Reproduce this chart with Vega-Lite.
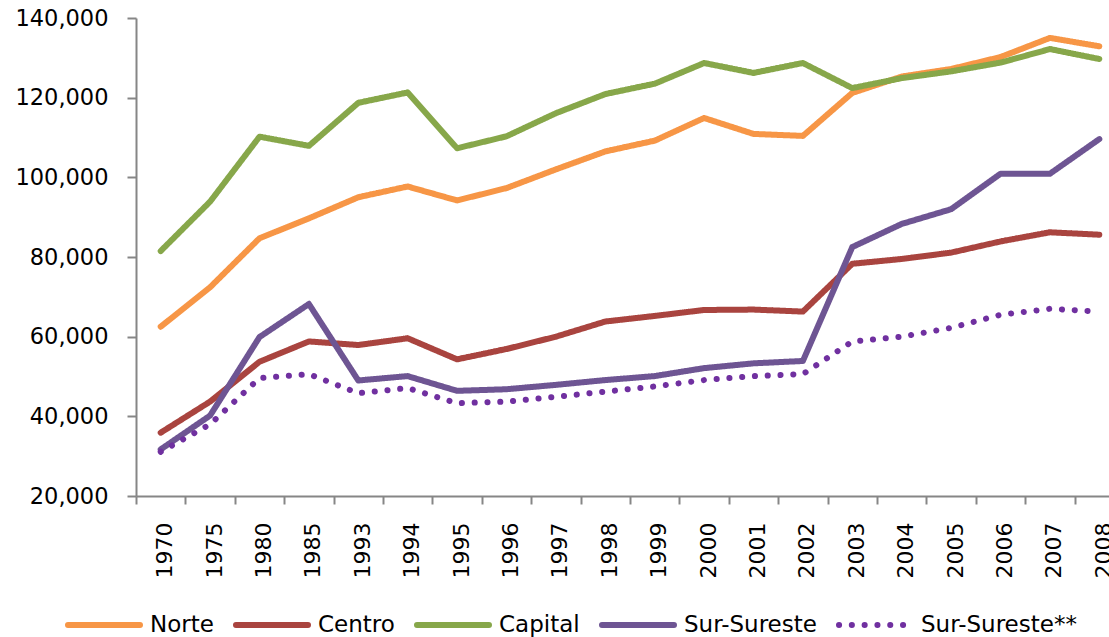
{
  "$schema": "https://vega.github.io/schema/vega-lite/v6.json",
  "autosize": {"type": "none"},
  "width": 973,
  "height": 478,
  "padding": {"left": 136, "top": 18, "right": 0, "bottom": 141},
  "background": "white",
  "config": {
    "view": {"stroke": null},
    "font": "DejaVu Sans"
  },
  "data": {
    "values": [
      {"year": "1970", "series": "Norte", "value": 62500},
      {"year": "1975", "series": "Norte", "value": 72400},
      {"year": "1980", "series": "Norte", "value": 84700},
      {"year": "1985", "series": "Norte", "value": 89700},
      {"year": "1993", "series": "Norte", "value": 95000},
      {"year": "1994", "series": "Norte", "value": 97700},
      {"year": "1995", "series": "Norte", "value": 94200},
      {"year": "1996", "series": "Norte", "value": 97300},
      {"year": "1997", "series": "Norte", "value": 102000},
      {"year": "1998", "series": "Norte", "value": 106500},
      {"year": "1999", "series": "Norte", "value": 109200},
      {"year": "2000", "series": "Norte", "value": 114900},
      {"year": "2001", "series": "Norte", "value": 110900},
      {"year": "2002", "series": "Norte", "value": 110400},
      {"year": "2003", "series": "Norte", "value": 121200},
      {"year": "2004", "series": "Norte", "value": 125300},
      {"year": "2005", "series": "Norte", "value": 127200},
      {"year": "2006", "series": "Norte", "value": 130200},
      {"year": "2007", "series": "Norte", "value": 135000},
      {"year": "2008", "series": "Norte", "value": 132900},

      {"year": "1970", "series": "Centro", "value": 35900},
      {"year": "1975", "series": "Centro", "value": 43700},
      {"year": "1980", "series": "Centro", "value": 53700},
      {"year": "1985", "series": "Centro", "value": 58800},
      {"year": "1993", "series": "Centro", "value": 57900},
      {"year": "1994", "series": "Centro", "value": 59600},
      {"year": "1995", "series": "Centro", "value": 54300},
      {"year": "1996", "series": "Centro", "value": 56900},
      {"year": "1997", "series": "Centro", "value": 60000},
      {"year": "1998", "series": "Centro", "value": 63800},
      {"year": "1999", "series": "Centro", "value": 65200},
      {"year": "2000", "series": "Centro", "value": 66700},
      {"year": "2001", "series": "Centro", "value": 66800},
      {"year": "2002", "series": "Centro", "value": 66300},
      {"year": "2003", "series": "Centro", "value": 78300},
      {"year": "2004", "series": "Centro", "value": 79500},
      {"year": "2005", "series": "Centro", "value": 81100},
      {"year": "2006", "series": "Centro", "value": 83900},
      {"year": "2007", "series": "Centro", "value": 86200},
      {"year": "2008", "series": "Centro", "value": 85600},

      {"year": "1970", "series": "Capital", "value": 81500},
      {"year": "1975", "series": "Capital", "value": 93900},
      {"year": "1980", "series": "Capital", "value": 110200},
      {"year": "1985", "series": "Capital", "value": 107900},
      {"year": "1993", "series": "Capital", "value": 118700},
      {"year": "1994", "series": "Capital", "value": 121300},
      {"year": "1995", "series": "Capital", "value": 107300},
      {"year": "1996", "series": "Capital", "value": 110300},
      {"year": "1997", "series": "Capital", "value": 116100},
      {"year": "1998", "series": "Capital", "value": 120900},
      {"year": "1999", "series": "Capital", "value": 123500},
      {"year": "2000", "series": "Capital", "value": 128700},
      {"year": "2001", "series": "Capital", "value": 126200},
      {"year": "2002", "series": "Capital", "value": 128700},
      {"year": "2003", "series": "Capital", "value": 122400},
      {"year": "2004", "series": "Capital", "value": 124900},
      {"year": "2005", "series": "Capital", "value": 126600},
      {"year": "2006", "series": "Capital", "value": 128800},
      {"year": "2007", "series": "Capital", "value": 132200},
      {"year": "2008", "series": "Capital", "value": 129700},

      {"year": "1970", "series": "Sur-Sureste", "value": 31700},
      {"year": "1975", "series": "Sur-Sureste", "value": 40200},
      {"year": "1980", "series": "Sur-Sureste", "value": 59900},
      {"year": "1985", "series": "Sur-Sureste", "value": 68200},
      {"year": "1993", "series": "Sur-Sureste", "value": 49000},
      {"year": "1994", "series": "Sur-Sureste", "value": 50100},
      {"year": "1995", "series": "Sur-Sureste", "value": 46400},
      {"year": "1996", "series": "Sur-Sureste", "value": 46800},
      {"year": "1997", "series": "Sur-Sureste", "value": 47900},
      {"year": "1998", "series": "Sur-Sureste", "value": 49100},
      {"year": "1999", "series": "Sur-Sureste", "value": 50100},
      {"year": "2000", "series": "Sur-Sureste", "value": 52100},
      {"year": "2001", "series": "Sur-Sureste", "value": 53300},
      {"year": "2002", "series": "Sur-Sureste", "value": 53900},
      {"year": "2003", "series": "Sur-Sureste", "value": 82500},
      {"year": "2004", "series": "Sur-Sureste", "value": 88300},
      {"year": "2005", "series": "Sur-Sureste", "value": 92000},
      {"year": "2006", "series": "Sur-Sureste", "value": 100900},
      {"year": "2007", "series": "Sur-Sureste", "value": 100900},
      {"year": "2008", "series": "Sur-Sureste", "value": 109600},

      {"year": "1970", "series": "Sur-Sureste**", "value": 31100},
      {"year": "1975", "series": "Sur-Sureste**", "value": 38000},
      {"year": "1980", "series": "Sur-Sureste**", "value": 49600},
      {"year": "1985", "series": "Sur-Sureste**", "value": 50600},
      {"year": "1993", "series": "Sur-Sureste**", "value": 45800},
      {"year": "1994", "series": "Sur-Sureste**", "value": 47100},
      {"year": "1995", "series": "Sur-Sureste**", "value": 43300},
      {"year": "1996", "series": "Sur-Sureste**", "value": 43700},
      {"year": "1997", "series": "Sur-Sureste**", "value": 44900},
      {"year": "1998", "series": "Sur-Sureste**", "value": 46200},
      {"year": "1999", "series": "Sur-Sureste**", "value": 47500},
      {"year": "2000", "series": "Sur-Sureste**", "value": 49100},
      {"year": "2001", "series": "Sur-Sureste**", "value": 50100},
      {"year": "2002", "series": "Sur-Sureste**", "value": 50600},
      {"year": "2003", "series": "Sur-Sureste**", "value": 58800},
      {"year": "2004", "series": "Sur-Sureste**", "value": 60000},
      {"year": "2005", "series": "Sur-Sureste**", "value": 62200},
      {"year": "2006", "series": "Sur-Sureste**", "value": 65500},
      {"year": "2007", "series": "Sur-Sureste**", "value": 67000},
      {"year": "2008", "series": "Sur-Sureste**", "value": 66300}
    ]
  },
  "mark": {"type": "line", "strokeWidth": 6, "strokeCap": "round", "strokeJoin": "round"},
  "encoding": {
    "x": {
      "field": "year",
      "type": "ordinal",
      "sort": null,
      "scale": {"range": [0, 988], "paddingInner": 0, "paddingOuter": 0},
      "axis": {
        "title": null,
        "labelAngle": 270,
        "labelFont": "DejaVu Sans",
        "labelFontSize": 22,
        "labelColor": "black",
        "labelPadding": 18,
        "labelOffset": 4,
        "tickBand": "extent",
        "tickSize": 8,
        "tickWidth": 2,
        "tickColor": "#868686",
        "domainColor": "#868686",
        "domainWidth": 2,
        "grid": false
      }
    },
    "y": {
      "field": "value",
      "type": "quantitative",
      "scale": {"domain": [20000, 140000], "nice": false, "zero": false},
      "axis": {
        "title": null,
        "values": [20000, 40000, 60000, 80000, 100000, 120000, 140000],
        "format": ",d",
        "labelFont": "DejaVu Sans",
        "labelFontSize": 22.5,
        "labelColor": "black",
        "labelPadding": 19,
        "tickSize": 9,
        "tickWidth": 2,
        "tickColor": "#868686",
        "domainColor": "#868686",
        "domainWidth": 2,
        "grid": false
      }
    },
    "color": {
      "field": "series",
      "type": "nominal",
      "scale": {
        "domain": ["Norte", "Centro", "Capital", "Sur-Sureste", "Sur-Sureste**"],
        "range": ["#F79646", "#A9443F", "#87A74A", "#6E5593", "#7030A0"]
      },
      "legend": {
        "orient": "none",
        "legendX": -71,
        "legendY": 568,
        "direction": "horizontal",
        "title": null,
        "symbolType": "stroke",
        "symbolSize": 5184,
        "symbolStrokeWidth": 6,
        "labelFont": "DejaVu Sans",
        "labelFontSize": 23,
        "labelColor": "black",
        "labelOffset": 7,
        "labelLimit": 400,
        "columnPadding": 10,
        "padding": 0,
        "symbolOpacity": 1,
        "symbolFillColor": "transparent",
        "encode": {"symbols": {"update": {"strokeCap": {"value": "round"}}}}
      }
    },
    "strokeDash": {
      "field": "series",
      "type": "nominal",
      "scale": {
        "domain": ["Norte", "Centro", "Capital", "Sur-Sureste", "Sur-Sureste**"],
        "range": [[1, 0], [1, 0], [1, 0], [1, 0], [0.1, 12.7]]
      },
      "legend": {
        "orient": "none",
        "legendX": -71,
        "legendY": 568,
        "direction": "horizontal",
        "title": null,
        "symbolType": "stroke",
        "symbolSize": 5184,
        "symbolStrokeWidth": 6,
        "labelFont": "DejaVu Sans",
        "labelFontSize": 23,
        "labelColor": "black",
        "labelOffset": 7,
        "labelLimit": 400,
        "columnPadding": 10,
        "padding": 0,
        "encode": {"symbols": {"update": {"strokeCap": {"value": "round"}}}}
      }
    }
  }
}
